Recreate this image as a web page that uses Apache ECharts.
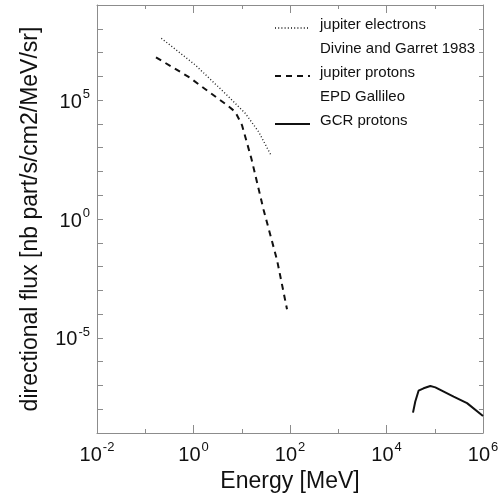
<!DOCTYPE html>
<html>
<head>
<meta charset="utf-8">
<script src="https://cdn.jsdelivr.net/npm/echarts@6/dist/echarts.min.js"></script>
<style>
  html, body { margin: 0; padding: 0; background: #fff; }
  #chart { width: 498px; height: 493px; }
</style>
</head>
<body>
<div id="chart"></div>
<script>
// Jupiter electrons (Divine and Garret 1983): energy [MeV], flux
const electronEnergy = [0.215, 1.09, 5.33, 11.8, 22.3, 40.9];
const electronFlux   = [4.0e7, 3.0e6, 1.4e5, 2.8e4, 4.7e3, 4.6e2];

// Jupiter protons (EPD Galileo)
const protonEnergy = [0.167, 0.79, 4.94, 7.35, 10.1, 15.8, 28.4, 53.8, 86.7];
const protonFlux   = [6.3e6, 9.5e5, 6.2e4, 3.2e4, 8.9e3, 355, 2.4, 0.019, 1.6e-4];

// Galactic cosmic ray protons
const gcrEnergy = [3.54e4, 3.95e4, 4.62e4, 5.87e4, 8.09e4, 1.03e5, 2.46e5, 4.67e5, 1.0e6];
const gcrFlux   = [7.2e-9, 2.1e-8, 6.0e-8, 7.6e-8, 9.5e-8, 8.3e-8, 3.4e-8, 1.8e-8, 5.2e-9];

// Axis ranges (decades) and which exponents carry a label
const xRange = [1e-2, 1e6];
const yRange = [1e-9, 1e9];
const xLabelStep = 2;
const yLabelStep = 5;

const legendItems = [
  { name: 'jupiter electrons', sub: 'Divine and Garret 1983', line: [1, 2.2], width: 1.4 },
  { name: 'jupiter protons',   sub: 'EPD Gallileo',           line: [6, 5],   width: 2 },
  { name: 'GCR protons',       sub: null,                     line: 'solid',  width: 2 }
];

const FONT = 'Liberation Sans, Arial, Helvetica, sans-serif';
const AXIS_GREY = '#8c8c8c';

function pairs(xs, ys) { return xs.map((x, i) => [x, ys[i]]); }

function powLabel(step) {
  return function (v) {
    const e = Math.round(Math.log10(v));
    if (e % step !== 0) return '';
    return '{m|10}{e|' + e + '}';
  };
}

const richPow = {
  m: { fontSize: 20, fontFamily: FONT, color: '#111', lineHeight: 24, verticalAlign: 'bottom' },
  e: { fontSize: 13, fontFamily: FONT, color: '#111', lineHeight: 24, verticalAlign: 'top', padding: [0, 0, 0, 1] }
};

// Fixed plot box; outer bounds fitting is switched off so the box keeps its size
const grid = { left: 97, right: 15, top: 5, bottom: 60, containLabel: false, outerBoundsMode: 'none' };

function xAxisDef(position, tickLen, interval, withLabel, withLine) {
  return {
    type: 'log', logBase: 10, min: xRange[0], max: xRange[1], interval: interval,
    position: position,
    axisLine: { show: withLine, lineStyle: { color: AXIS_GREY, width: 1 } },
    axisTick: { show: true, inside: true, length: tickLen, lineStyle: { color: AXIS_GREY } },
    axisLabel: withLabel
      ? { show: true, margin: 8, formatter: powLabel(xLabelStep), rich: richPow }
      : { show: false },
    splitLine: { show: false },
    name: withLabel ? 'Energy [MeV]' : '',
    nameLocation: 'middle', nameGap: 33,
    nameTextStyle: { fontSize: 23, fontFamily: FONT, color: '#111' }
  };
}

function yAxisDef(position, tickLen, withLabel) {
  return {
    type: 'log', logBase: 10, min: yRange[0], max: yRange[1], interval: 1,
    position: position,
    axisLine: { show: true, lineStyle: { color: AXIS_GREY, width: 1 } },
    axisTick: { show: true, inside: true, length: tickLen, lineStyle: { color: AXIS_GREY } },
    axisLabel: withLabel
      ? { show: true, margin: 7, formatter: powLabel(yLabelStep), rich: richPow }
      : { show: false },
    splitLine: { show: false },
    name: withLabel ? 'directional flux [nb part/s/cm2/MeV/sr]' : '',
    nameLocation: 'middle', nameGap: 55,
    nameTextStyle: { fontSize: 23, fontFamily: FONT, color: '#111' }
  };
}

// Legend drawn as line samples plus text in the upper right corner
const legendGraphics = [];
const legendX = 275, legendTextX = 320, legendTop = 25, legendRow = 24;
let row = 0;
legendItems.forEach(item => {
  const y = legendTop + row * legendRow;
  legendGraphics.push({
    type: 'line', silent: true,
    shape: { x1: legendX, y1: y + 3, x2: legendX + 35, y2: y + 3 },
    style: { stroke: '#111', lineWidth: item.width, lineDash: item.line === 'solid' ? null : item.line }
  });
  legendGraphics.push({
    type: 'text', silent: true, x: legendTextX, y: y,
    style: { text: item.name, fontSize: 15, fontFamily: FONT, fill: '#111', verticalAlign: 'middle' }
  });
  row++;
  if (item.sub) {
    legendGraphics.push({
      type: 'text', silent: true, x: legendTextX, y: legendTop + row * legendRow,
      style: { text: item.sub, fontSize: 15, fontFamily: FONT, fill: '#111', verticalAlign: 'middle' }
    });
    row++;
  }
});

const chart = echarts.init(document.getElementById('chart'), null, { renderer: 'canvas' });
chart.setOption({
  animation: false,
  backgroundColor: '#fff',
  grid: grid,
  xAxis: [
    xAxisDef('bottom', 4, 1, true, true),
    xAxisDef('bottom', 8, 2, false, false),
    xAxisDef('top', 4, 1, false, true),
    xAxisDef('top', 8, 2, false, false)
  ],
  yAxis: [
    yAxisDef('left', 6, true),
    yAxisDef('right', 4, false)
  ],
  graphic: legendGraphics,
  series: [
    {
      name: 'jupiter electrons', type: 'line', xAxisIndex: 0, yAxisIndex: 0,
      data: pairs(electronEnergy, electronFlux), showSymbol: false,
      lineStyle: { color: '#222', width: 1.4, type: [1, 2.2] }
    },
    {
      name: 'jupiter protons', type: 'line', xAxisIndex: 0, yAxisIndex: 0,
      data: pairs(protonEnergy, protonFlux), showSymbol: false,
      lineStyle: { color: '#111', width: 2, type: [6, 5] }
    },
    {
      name: 'GCR protons', type: 'line', xAxisIndex: 0, yAxisIndex: 0,
      data: pairs(gcrEnergy, gcrFlux), showSymbol: false,
      lineStyle: { color: '#111', width: 2, type: 'solid' }
    }
  ]
});
</script>
</body>
</html>
